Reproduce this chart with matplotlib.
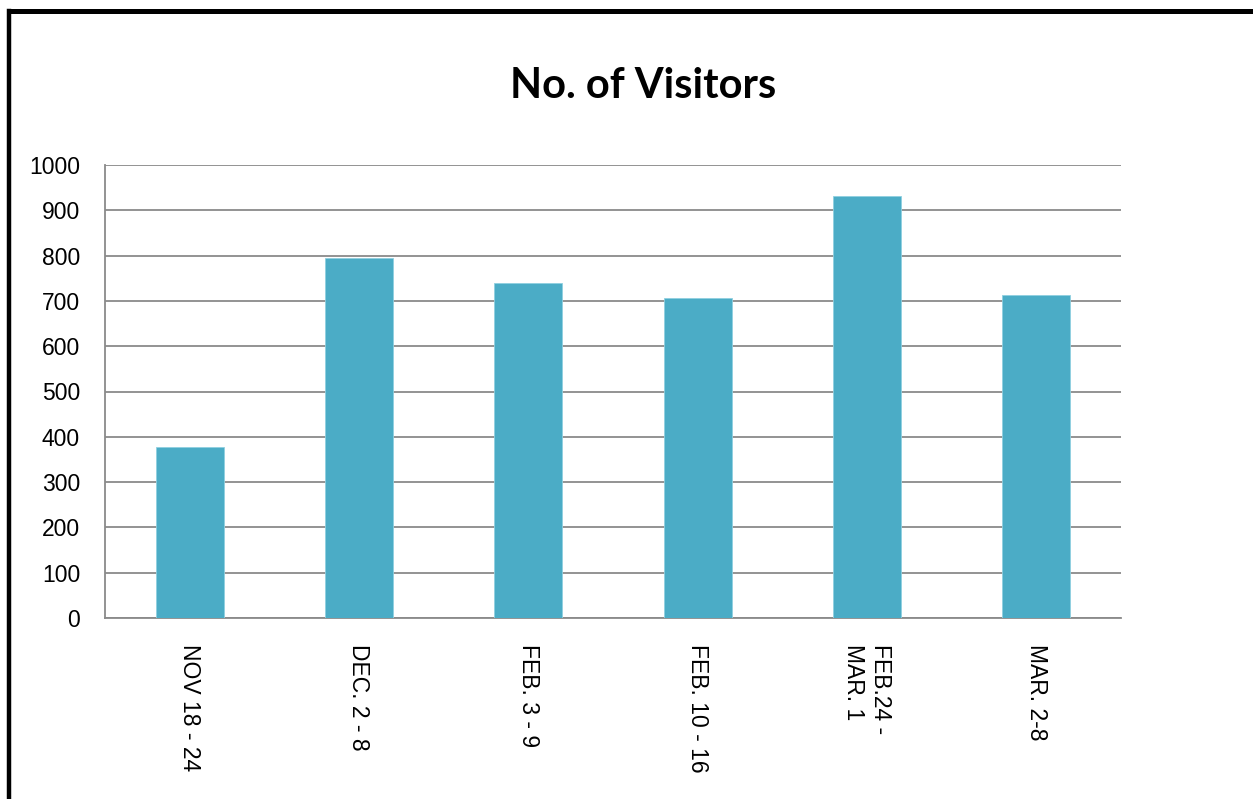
import matplotlib
matplotlib.use("Agg")
import matplotlib.pyplot as plt
from matplotlib.lines import Line2D

# ── data ──────────────────────────────────────────────
weeks = ["NOV 18 - 24", "DEC. 2 - 8", "FEB. 3 - 9", "FEB. 10 - 16", "FEB.24 -\nMAR. 1", "MAR. 2-8"]
visitors = [378, 795, 740, 706, 932, 712]
yticks = [0, 100, 200, 300, 400, 500, 600, 700, 800, 900, 1000]

W, H = 1253, 799
fig = plt.figure(figsize=(W / 100, H / 100), dpi=100)

ax = fig.add_axes([105 / W, 1 - 618 / H, (1121 - 105) / W, (618 - 165) / H])
x = range(len(weeks))
ax.bar(x, visitors, width=0.40, color="#4BACC6", edgecolor="#8fd0e0", linewidth=0.6, zorder=3)

ax.set_ylim(0, 1000)
ax.set_xlim(-0.5, len(weeks) - 0.5)
ax.set_yticks(yticks)
ax.set_yticklabels([str(v) for v in yticks], fontsize=16.5, family="Liberation Sans")
ax.yaxis.grid(True, color="#8a8a8a", linewidth=1.3, zorder=0)
ax.set_axisbelow(True)

ax.set_xticks(list(x))
ax.set_xticklabels(weeks, rotation=270, fontsize=16.5, family="Liberation Sans",
                   va="top", ha="center", multialignment="left")
ax.tick_params(axis="both", length=0)
ax.tick_params(axis="y", pad=18)
ax.tick_params(axis="x", pad=19)

for side in ["top", "right"]:
    ax.spines[side].set_visible(False)
for side in ["left", "bottom"]:
    ax.spines[side].set_color("#8a8a8a")
    ax.spines[side].set_linewidth(1.3)

fig.text(643 / W, 1 - 86 / H, "No. of Visitors", fontsize=30, fontweight="bold",
         family="Lato", ha="center", va="center")

# frame around the chart (left and top edges visible)
fig.add_artist(Line2D([9 / W, 9 / W], [0, 1 - 10.5 / H], color="black", linewidth=3.2,
                      transform=fig.transFigure, solid_capstyle="projecting"))
fig.add_artist(Line2D([9 / W, 1], [1 - 10.5 / H, 1 - 10.5 / H], color="black", linewidth=3.6,
                      transform=fig.transFigure, solid_capstyle="projecting"))

fig.savefig("out.png", dpi=100)
